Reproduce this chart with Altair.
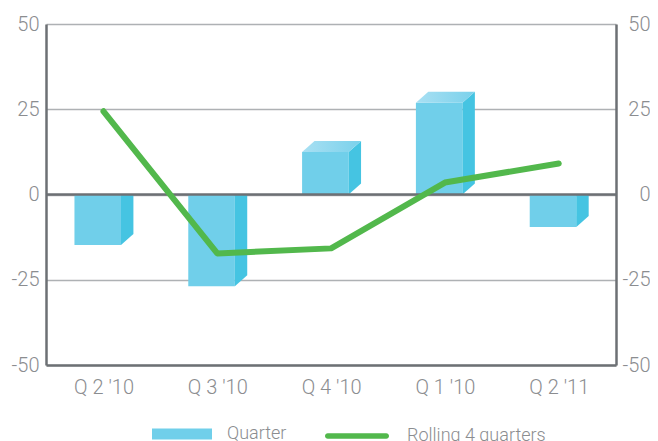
import json
import altair as alt
import pandas as pd

# ---- data ----
quarters = ["Q 2 '10", "Q 3 '10", "Q 4 '10", "Q 1 '10", "Q 2 '11"]
quarter_values = [-14.8, -26.9, 12.5, 26.9, -9.5]
rolling_values = [24.4, -17.3, -15.8, 3.5, 9.1]
y_ticks = [-50, -25, 0, 25, 50]
title_text = "Cash Flow from operating activities, SEK m"
legend_quarter = "Quarter"
legend_rolling = "Rolling 4 quarters"

# ---- geometry of the pseudo-3D boxes (in data units) ----
FRONT_L, FRONT_R = 0.255, 0.154   # front face extent around category index
DEPTH_X, DEPTH_Y = 0.109, 3.22     # depth of the box (x in category units, y in value units)

idx = list(range(len(quarters)))

front = pd.DataFrame({
    "i": idx,
    "x0": [i - FRONT_L for i in idx],
    "x1": [i + FRONT_R for i in idx],
    "lo": [min(0, v) for v in quarter_values],
    "hi": [max(0, v) for v in quarter_values],
    "qseries": [legend_quarter] * len(idx),
})

side_rows = []
top_rows = []
for i, v in zip(idx, quarter_values):
    if v >= 0:
        side_rows.append({"bar": i, "x": i + FRONT_R, "lo": 0, "hi": v})
        side_rows.append({"bar": i, "x": i + FRONT_R + DEPTH_X, "lo": DEPTH_Y, "hi": v + DEPTH_Y})
        top_rows.append({"bar": i, "y": v, "xa": i - FRONT_L, "xb": i + FRONT_R})
        top_rows.append({"bar": i, "y": v + DEPTH_Y, "xa": i - FRONT_L + DEPTH_X, "xb": i + FRONT_R + DEPTH_X})
    else:
        side_rows.append({"bar": i, "x": i + FRONT_R, "lo": v, "hi": 0})
        side_rows.append({"bar": i, "x": i + FRONT_R + DEPTH_X, "lo": v + DEPTH_Y, "hi": 0})
side = pd.DataFrame(side_rows)
top = pd.DataFrame(top_rows)

line_df = pd.DataFrame({"i": idx, "v": rolling_values, "rseries": [legend_rolling] * len(idx)})
zero_df = pd.DataFrame({"zero": [0]})

# ---- styles ----
FONT = "Roboto"
LABEL_COLOR = "#8b8d90"
DARK = "#6d7074"
GRID = "#aeb1b4"
FRONT_C = "#70cfea"
SIDE_C = "#45c4e2"
GREEN = "#52b84c"

xscale = alt.Scale(domain=[-0.505, 4.503], nice=False, zero=False)
yscale = alt.Scale(domain=[-50, 50], nice=False)

label_expr = json.dumps(quarters) + "[datum.value]"

x_axis = alt.Axis(values=idx, labelExpr=label_expr, title=None, grid=False, ticks=False, tickSize=0,
                  domainColor=DARK, domainWidth=2.5, labelPadding=12, labelFont=FONT,
                  labelFontWeight=300, labelFontSize=20, labelColor=LABEL_COLOR)
y_left = alt.Axis(values=y_ticks, title=None, grid=True, gridColor=GRID, gridWidth=1.3,
                  ticks=False, tickSize=0, domainColor=DARK, domainWidth=2.5, labelPadding=7,
                  labelExpr="datum.value + ''",
                  labelFont=FONT, labelFontWeight=300, labelFontSize=20, labelColor=LABEL_COLOR)
y_right = alt.Axis(orient="right", values=y_ticks, title=None, grid=False, ticks=False, tickSize=0,
                   domainColor=DARK, domainWidth=2.5, labelAlign="right", labelPadding=34,
                   labelExpr="datum.value + ''",
                   labelFont=FONT, labelFontWeight=300, labelFontSize=20, labelColor=LABEL_COLOR)

quarter_symbol = "M-1,-0.183H1V0.183H-1Z"
rolling_symbol = ("M-0.914,-0.086L0.914,-0.086A0.086,0.086 0 0 1 0.914,0.086"
                  "L-0.914,0.086A0.086,0.086 0 0 1 -0.914,-0.086Z")

front_layer = alt.Chart(front).mark_rect().encode(
    x=alt.X("x0:Q", scale=xscale, axis=x_axis),
    x2="x1:Q",
    y=alt.Y("hi:Q", scale=yscale, axis=y_left),
    y2="lo:Q",
    fill=alt.Fill("qseries:N", scale=alt.Scale(domain=[legend_quarter], range=[FRONT_C]),
                  legend=alt.Legend(orient="none", legendX=106, legendY=380, title=None,
                                    direction="horizontal", padding=0,
                                    symbolType=quarter_symbol, symbolSize=3600, symbolStrokeWidth=0,
                                    labelFont=FONT, labelFontWeight=300, labelFontSize=18,
                                    labelColor=LABEL_COLOR, labelOffset=15)),
)

side_layer = alt.Chart(side).mark_area(orient="vertical", color=SIDE_C, opacity=1).encode(
    x=alt.X("x:Q", scale=xscale, axis=x_axis),
    y=alt.Y("hi:Q", scale=yscale, axis=None),
    y2="lo:Q",
    detail="bar:N",
)

top_layer = alt.Chart(top).mark_area(
    orient="horizontal", opacity=1,
    fill=alt.Gradient(gradient="linear", x1=0, x2=1, y1=0, y2=0,
                      stops=[alt.GradientStop(color="#a9e0f3", offset=0),
                             alt.GradientStop(color="#7ad1eb", offset=1)]),
).encode(
    y=alt.Y("y:Q", scale=yscale, axis=None),
    x=alt.X("xa:Q", scale=xscale, axis=x_axis),
    x2="xb:Q",
    detail="bar:N",
)

zero_layer = alt.Chart(zero_df).mark_rule(color=DARK, strokeWidth=2.5).encode(
    y=alt.Y("zero:Q", scale=yscale, axis=None),
)

line_layer = alt.Chart(line_df).mark_line(strokeWidth=6, strokeCap="round", strokeJoin="round").encode(
    x=alt.X("i:Q", scale=xscale, axis=x_axis),
    y=alt.Y("v:Q", scale=yscale, axis=y_right),
    stroke=alt.Stroke("rseries:N", scale=alt.Scale(domain=[legend_rolling], range=[GREEN]),
                      legend=alt.Legend(orient="none", legendX=279, legendY=380, title=None,
                                        direction="horizontal", padding=0,
                                        symbolType=rolling_symbol, symbolSize=4096,
                                        symbolFillColor=GREEN, symbolStrokeWidth=0,
                                        labelFont=FONT, labelFontWeight=300, labelFontSize=18,
                                        labelColor=LABEL_COLOR, labelOffset=18)),
)

chart = alt.layer(front_layer, side_layer, top_layer, zero_layer, line_layer).resolve_axis(
    y="independent"
).properties(
    width=570,
    height=341,
    padding={"left": 38, "top": 16, "right": 34, "bottom": 76},
    autosize=alt.AutoSizeParams(type="none"),
    title=alt.TitleParams(title_text, font="Open Sans", fontSize=22, fontWeight="bold",
                          color="#231f20", anchor="middle", offset=22),
    background="white",
).configure_view(stroke=None)

chart.save("out.html", embed_options={"renderer": "svg", "actions": False})
